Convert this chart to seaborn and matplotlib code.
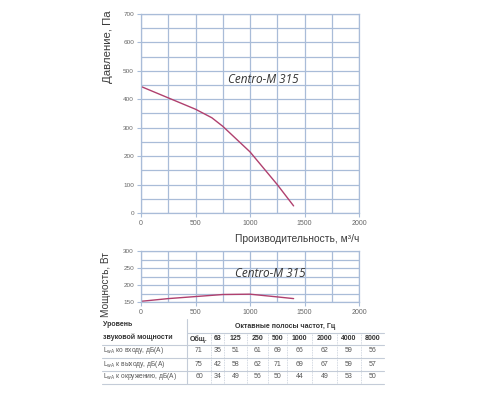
import matplotlib
matplotlib.use("Agg")
import matplotlib.pyplot as plt
import seaborn as sns
import pandas as pd

# pressure curve, Па vs м3/ч
flow_p = [0, 250, 500, 650, 750, 1000, 1250, 1400]
pressure = [445, 405, 365, 335, 305, 215, 100, 25]

# power curve, Вт vs м3/ч
flow_w = [0, 250, 500, 750, 1000, 1250, 1400]
power = [152, 160, 166, 172, 173, 165, 160]

model = "Centro-M 315"

# sound table
bands = ["Общ.", "63", "125", "250", "500", "1000", "2000", "4000", "8000"]
row_labels = [r"L$_{\mathrm{wA}}$ ко входу, дБ(А)",
              r"L$_{\mathrm{wA}}$ к выходу, дБ(А)",
              r"L$_{\mathrm{wA}}$ к окружению, дБ(А)"]
inlet = [71, 35, 51, 61, 69, 66, 62, 59, 56]
outlet = [75, 42, 58, 62, 71, 69, 67, 59, 57]
ambient = [60, 34, 49, 56, 50, 44, 49, 53, 50]

sns.set_style("white")
plt.rcParams['font.family'] = ['Liberation Sans', 'DejaVu Sans']

curve_col = "#b0406e"
grid_col = "#a9bcd8"
tick_col = "#666666"
label_col = "#3a3a3a"

fig = plt.figure(figsize=(5, 4), dpi=100)


def style_axes(ax, xmax, ymin, ymax, ymajor, yminor):
    ax.set_xlim(0, xmax)
    ax.set_ylim(ymin, ymax)
    ax.set_xticks(range(0, xmax + 1, 500))
    ax.set_xticks(range(0, xmax + 1, 250), minor=True)
    ax.set_yticks(range(ymin, ymax + 1, ymajor))
    ax.set_yticks(range(ymin, ymax + 1, yminor), minor=True)
    ax.grid(True, which="both", color=grid_col, lw=0.9)
    for s in ax.spines.values():
        s.set_color(grid_col)
        s.set_linewidth(0.9)
    ax.tick_params(which="major", length=3, width=0.8, color=grid_col,
                   labelcolor=tick_col, pad=2, left=True, bottom=True)
    ax.tick_params(axis="x", labelsize=5)
    ax.tick_params(axis="y", labelsize=4.6)
    ax.tick_params(which="minor", length=0)


# top chart: pressure
ax1 = fig.add_axes([0.282, 0.4675, 0.436, 0.4975])
df_p = pd.DataFrame({"flow": flow_p, "pressure": pressure})
sns.lineplot(data=df_p, x="flow", y="pressure", ax=ax1, color=curve_col, lw=1.0)
style_axes(ax1, 2000, 0, 700, 100, 50)
ax1.set_xlabel("Производительность, м³/ч", fontsize=7.4, color=label_col, loc="right")
ax1.xaxis.set_label_coords(1.0, -0.105)
ax1.set_ylabel("Давление, Па", fontsize=8.2, color=label_col, loc="top")
ax1.yaxis.set_label_coords(-0.128, 1.02)
ax1.text(800, 468, model, fontsize=8.5, style="italic", family="Open Sans",
         color="#333333", va="center")

# bottom chart: power
ax2 = fig.add_axes([0.282, 0.245, 0.436, 0.1275])
df_w = pd.DataFrame({"flow": flow_w, "power": power})
sns.lineplot(data=df_w, x="flow", y="power", ax=ax2, color=curve_col, lw=1.0)
style_axes(ax2, 2000, 150, 300, 50, 25)
ax2.set_xlabel("")
ax2.set_ylabel("Мощность, Вт", fontsize=7.2, color=label_col, loc="top")
ax2.yaxis.set_label_coords(-0.138, 0.98)
ax2.text(862, 235, model, fontsize=8.5, style="italic", family="Open Sans",
         color="#333333", va="center")

# sound table in pixel coordinates
tab = fig.add_axes([0, 0, 1, 1])
tab.set_xlim(0, 500)
tab.set_ylim(400, 0)
tab.axis("off")

line_col = "#c4ccd8"
txt_col = "#555555"
head_col = "#333333"
col_edges = [187, 211, 224, 247, 268, 287, 312, 337, 361, 384]
row_y = [351, 364, 377]
tab.plot([187, 187], [319, 384], color=line_col, lw=0.8)
tab.plot([187, 384], [333, 333], color=line_col, lw=0.8)
for y in [345, 358, 371, 384]:
    tab.plot([102, 384], [y, y], color=line_col, lw=0.8)
for x in col_edges[1:-1]:
    tab.plot([x, x], [333, 384], color=line_col, lw=0.6, ls=(0, (1, 1)))

tab.text(103, 325, "Уровень", fontsize=5, weight="bold", color=head_col, va="center")
tab.text(103, 337, "звуковой мощности", fontsize=5, weight="bold", color=head_col, va="center")
tab.text(285, 326, "Октавные полосы частот, Гц", fontsize=5, weight="bold",
         color=head_col, va="center", ha="center")
for i, b in enumerate(bands):
    xc = (col_edges[i] + col_edges[i + 1]) / 2
    tab.text(xc, 339, b, fontsize=5, weight="bold", color=head_col, va="center", ha="center")
for r, (lab, vals) in enumerate(zip(row_labels, [inlet, outlet, ambient])):
    tab.text(103, row_y[r], lab, fontsize=4.8, color=txt_col, va="center")
    for i, v in enumerate(vals):
        xc = (col_edges[i] + col_edges[i + 1]) / 2
        tab.text(xc, row_y[r], str(v), fontsize=5, color=txt_col, va="center", ha="center")

fig.savefig("out.png", dpi=100, facecolor="white")
